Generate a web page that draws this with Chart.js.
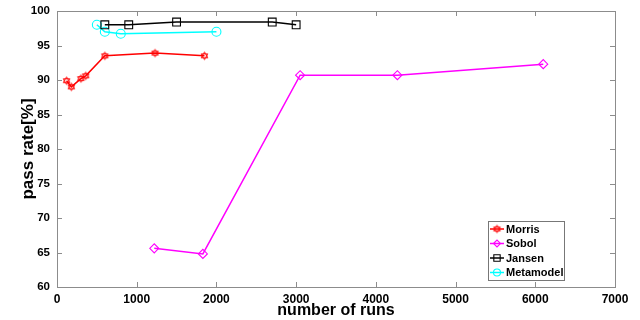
<!DOCTYPE html>
<html>
<head>
<meta charset="utf-8">
<script src="https://cdn.jsdelivr.net/npm/chart.js@4"></script>
<style>
body { margin: 0; background: #fff; }
</style>
</head>
<body>
<canvas id="myChart" width="640" height="320"></canvas>
<script>
// values
const morrisRuns = [120, 180, 300, 360, 600, 1230, 1850];
const morrisRate = [89.9, 89.0, 90.2, 90.6, 93.5, 93.9, 93.5];
const sobolRuns = [1220, 1830, 3050, 4270, 6100];
const sobolRate = [65.6, 64.8, 90.7, 90.7, 92.3];
const jansenRuns = [600, 900, 1500, 2700, 3000];
const jansenRate = [98.0, 98.0, 98.4, 98.4, 98.0];
const metaRuns = [500, 600, 800, 2000];
const metaRate = [98.0, 97.0, 96.7, 97.0];
const xTicks = [0, 1000, 2000, 3000, 4000, 5000, 6000, 7000];
const yTicks = [60, 65, 70, 75, 80, 85, 90, 95, 100];

const fuente = 'Liberation Sans, Arial, sans-serif';

// hexagram marker like matlab 'h'
function hexagrama(color) {
    const c = document.createElement('canvas');
    c.width = 11; c.height = 11;
    const g = c.getContext('2d');
    g.strokeStyle = color;
    g.lineWidth = 1;
    const r = 3.8, cx = 5.5, cy = 5.5;
    for (let t = 0; t < 2; t++) {
        g.beginPath();
        for (let i = 0; i < 3; i++) {
            const a = -Math.PI / 2 + t * Math.PI + i * 2 * Math.PI / 3;
            const px = cx + r * Math.cos(a), py = cy + r * Math.sin(a);
            if (i == 0) g.moveTo(px, py); else g.lineTo(px, py);
        }
        g.closePath();
        g.stroke();
    }
    return c;
}

function puntos(xs, ys) {
    return xs.map((x, i) => ({ x: x, y: ys[i] }));
}

const series = [
    { label: 'Morris', data: puntos(morrisRuns, morrisRate), color: '#ff0000', pointStyle: hexagrama('#ff0000'), pointRadius: 5 },
    { label: 'Sobol', data: puntos(sobolRuns, sobolRate), color: '#ff00ff', pointStyle: 'rectRot', pointRadius: 4.5 },
    { label: 'Jansen', data: puntos(jansenRuns, jansenRate), color: '#000000', pointStyle: 'rect', pointRadius: 5.5 },
    { label: 'Metamodel', data: puntos(metaRuns, metaRate), color: '#00ffff', pointStyle: 'circle', pointRadius: 4.5 }
];

// box, inward ticks and legend drawn by hand (matlab look)
const marcoPlugin = {
    id: 'marco',
    afterDraw(chart) {
        const ctx = chart.ctx;
        const a = chart.chartArea;
        const sx = chart.scales.x, sy = chart.scales.y;
        ctx.save();
        ctx.strokeStyle = '#8c8c8c';
        ctx.lineWidth = 1;
        ctx.strokeRect(a.left + 0.5, a.top + 0.5, a.right - a.left, a.bottom - a.top);
        ctx.beginPath();
        xTicks.slice(1, -1).forEach(v => {
            const px = Math.round(sx.getPixelForValue(v)) + 0.5;
            ctx.moveTo(px, a.bottom); ctx.lineTo(px, a.bottom - 5);
            ctx.moveTo(px, a.top); ctx.lineTo(px, a.top + 5);
        });
        yTicks.slice(1, -1).forEach(v => {
            const py = Math.round(sy.getPixelForValue(v)) + 0.5;
            ctx.moveTo(a.left, py); ctx.lineTo(a.left + 5, py);
            ctx.moveTo(a.right, py); ctx.lineTo(a.right - 5, py);
        });
        ctx.stroke();

        // legend
        const w = 76, h = 59;
        const lx = a.right - 51 - w, ly = a.bottom - 7 - h;
        ctx.fillStyle = '#fff';
        ctx.fillRect(lx, ly, w, h);
        ctx.strokeStyle = '#777';
        ctx.strokeRect(lx + 0.5, ly + 0.5, w, h);
        ctx.font = 'bold 11px ' + fuente;
        ctx.textBaseline = 'middle';
        series.forEach((s, i) => {
            const yy = ly + 8 + i * 14.5;
            ctx.strokeStyle = s.color;
            ctx.lineWidth = 1.5;
            ctx.beginPath();
            ctx.moveTo(lx + 2, yy); ctx.lineTo(lx + 16, yy);
            ctx.stroke();
            ctx.fillStyle = 'rgba(0,0,0,0)';
            ctx.lineWidth = 1.1;
            Chart.helpers.drawPoint(ctx, { pointStyle: s.pointStyle, radius: s.pointRadius - 1, borderWidth: 1.1 }, lx + 9, yy);
            ctx.fillStyle = '#000';
            ctx.fillText(s.label, lx + 18, yy + 0.5);
        });
        ctx.restore();
    }
};

const ctx = document.querySelector('#myChart').getContext('2d');
const chart = new Chart(ctx, {
    type: 'line',
    data: {
        datasets: series.map(s => ({
            label: s.label,
            data: s.data,
            borderColor: s.color,
            backgroundColor: 'rgba(0,0,0,0)',
            pointBorderColor: s.color,
            pointBackgroundColor: 'rgba(0,0,0,0)',
            pointStyle: s.pointStyle,
            pointRadius: s.pointRadius,
            pointBorderWidth: 1.1,
            borderWidth: 1.5,
            tension: 0
        }))
    },
    options: {
        responsive: false,
        animation: false,
        layout: { padding: { top: 11, right: 25, left: 0, bottom: 0 } },
        plugins: { legend: { display: false }, tooltip: { enabled: false } },
        scales: {
            x: {
                type: 'linear',
                min: 0, max: 7000,
                afterBuildTicks: s => { s.ticks = xTicks.map(v => ({ value: v })); },
                afterFit: s => { s.height = 33; s.paddingLeft = 0; s.paddingRight = 0; },
                grid: { display: false, drawTicks: false },
                border: { display: false },
                ticks: { color: '#000', padding: 5, maxRotation: 0, callback: v => String(v), font: { family: fuente, size: 12, weight: 'bold' } },
                title: { display: true, text: 'number of runs', color: '#000', padding: { top: 0, bottom: 0 }, font: { family: fuente, size: 16, weight: 'bold' } }
            },
            y: {
                min: 60, max: 100,
                afterBuildTicks: s => { s.ticks = yTicks.map(v => ({ value: v })); },
                afterFit: s => { s.width = 57; s.paddingTop = 0; s.paddingBottom = 0; },
                grid: { display: false, drawTicks: false },
                border: { display: false },
                ticks: { color: '#000', padding: 7, callback: v => String(v), font: { family: fuente, size: 11.5, weight: 'bold' } },
                title: { display: true, text: 'pass rate[%]', color: '#000', padding: { top: 18, bottom: 0 }, font: { family: fuente, size: 17, weight: 'bold' } }
            }
        }
    },
    plugins: [marcoPlugin]
});
</script>
</body>
</html>
